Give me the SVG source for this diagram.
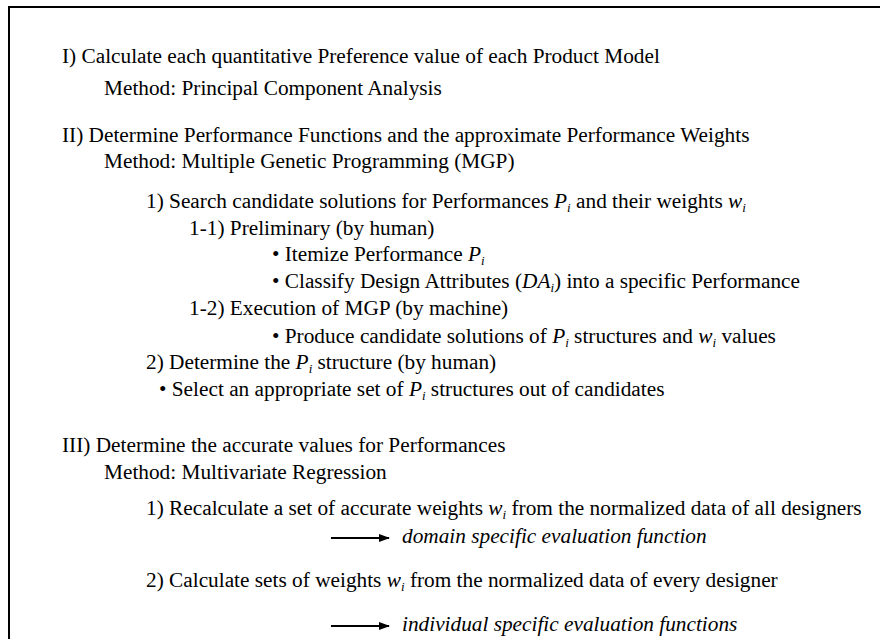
<svg xmlns="http://www.w3.org/2000/svg" width="880" height="639" viewBox="0 0 880 639">
<defs>
<marker id="ah" markerWidth="11" markerHeight="8" refX="10" refY="4" orient="auto" markerUnits="userSpaceOnUse">
<path d="M0,0 L11,4 L0,8 Z" fill="#000"/>
</marker>
<style>
text{font-family:"Liberation Serif","Times New Roman",serif;font-size:21.3px;fill:#000}
.it{font-style:italic}
.sub{font-size:13px;font-style:italic}
.arr{stroke:#000;stroke-width:2;fill:none}
</style>
</defs>
<rect x="0" y="0" width="880" height="639" fill="#fff"/>
<path d="M9,639 V7 H880" fill="none" stroke="#000" stroke-width="2"/>
<g id="step1">
<text x="62" y="63">I) Calculate each quantitative Preference value of each Product Model</text>
<text x="104" y="95">Method: Principal Component Analysis</text>
</g>
<g id="step2">
<text x="62" y="142">II) Determine Performance Functions and the approximate Performance Weights</text>
<text x="104" y="168">Method: Multiple Genetic Programming (MGP)</text>
<text x="146" y="208">1) Search candidate solutions for Performances <tspan class="it">P</tspan><tspan class="sub" dy="4">i</tspan><tspan dy="-4"> and their weights </tspan><tspan class="it">w</tspan><tspan class="sub" dy="4">i</tspan></text>
<text x="189" y="235">1-1) Preliminary (by human)</text>
<text x="272" y="261">• Itemize Performance <tspan class="it">P</tspan><tspan class="sub" dy="4">i</tspan></text>
<text x="272" y="288">• Classify Design Attributes (<tspan class="it">DA</tspan><tspan class="sub" dy="4">i</tspan><tspan dy="-4">) into a specific Performance</tspan></text>
<text x="189" y="315">1-2) Execution of MGP (by machine)</text>
<text x="272" y="343">• Produce candidate solutions of <tspan class="it">P</tspan><tspan class="sub" dy="4">i</tspan><tspan dy="-4"> structures and </tspan><tspan class="it">w</tspan><tspan class="sub" dy="4">i</tspan><tspan dy="-4"> values</tspan></text>
<text x="146" y="369">2) Determine the <tspan class="it">P</tspan><tspan class="sub" dy="4">i</tspan><tspan dy="-4"> structure (by human)</tspan></text>
<text x="159" y="396">• Select an appropriate set of <tspan class="it">P</tspan><tspan class="sub" dy="4">i</tspan><tspan dy="-4"> structures out of candidates</tspan></text>
</g>
<g id="step3">
<text x="62" y="452">III) Determine the accurate values for Performances</text>
<text x="104" y="479">Method: Multivariate Regression</text>
<text x="146" y="515">1) Recalculate a set of accurate weights <tspan class="it">w</tspan><tspan class="sub" dy="4">i</tspan><tspan dy="-4"> from the normalized data of all designers</tspan></text>
<text x="402" y="543" class="it">domain specific evaluation function</text>
<text x="146" y="587">2) Calculate sets of weights <tspan class="it">w</tspan><tspan class="sub" dy="4">i</tspan><tspan dy="-4"> from the normalized data of every designer</tspan></text>
<text x="402" y="631" class="it">individual specific evaluation functions</text>
</g>
<g id="connectors">
<line class="arr" x1="331" y1="538" x2="389" y2="538" marker-end="url(#ah)"/>
<line class="arr" x1="331" y1="626" x2="389" y2="626" marker-end="url(#ah)"/>
</g>
</svg>
